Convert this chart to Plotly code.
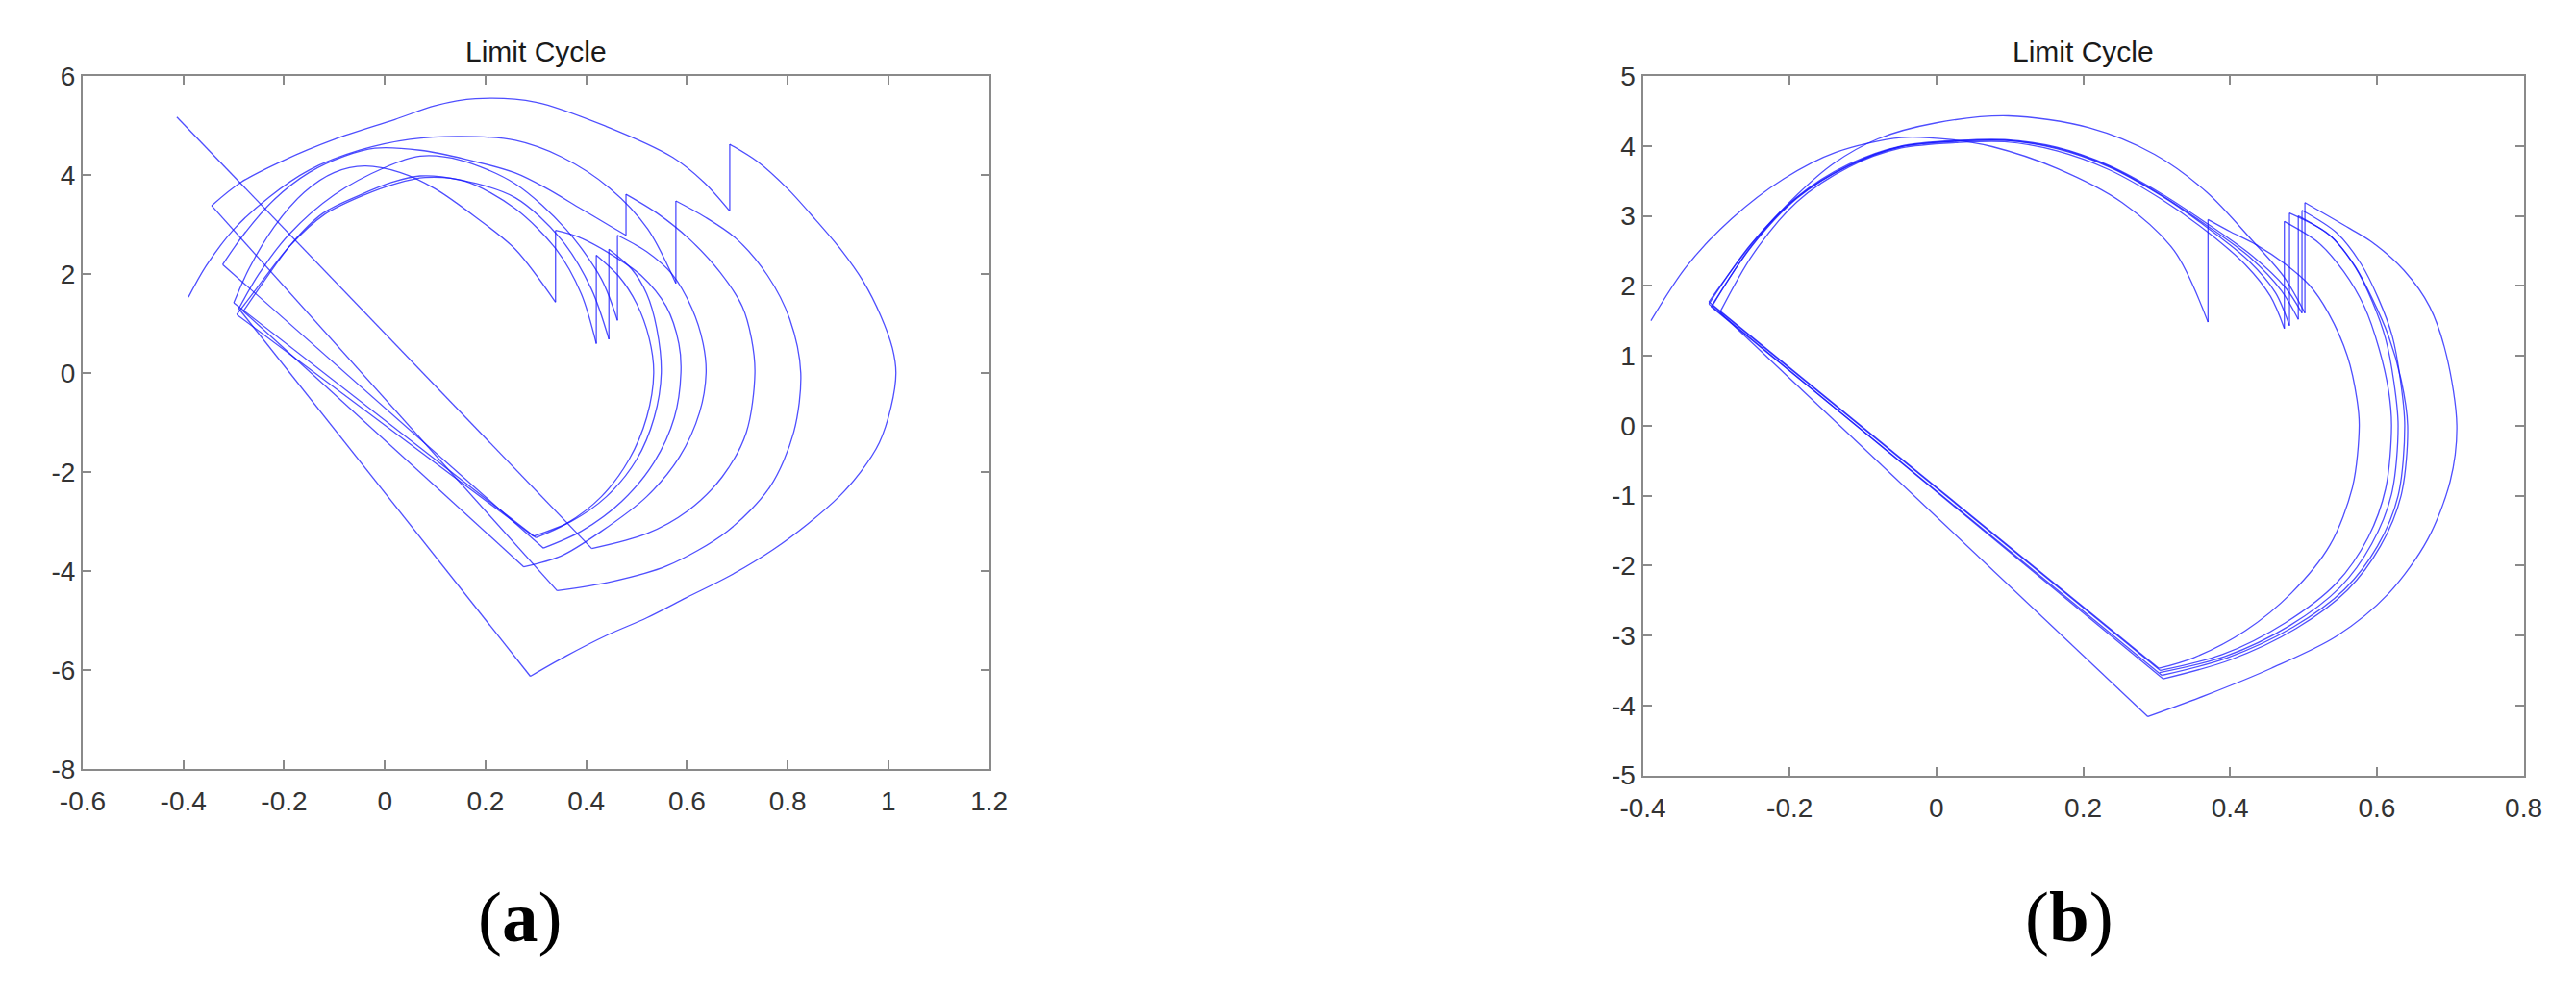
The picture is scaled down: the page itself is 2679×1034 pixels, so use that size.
import plotly.graph_objects as go

# ---------------- Panel (a) data ----------------
A_X_TICKS = [-0.6, -0.4, -0.2, 0, 0.2, 0.4, 0.6, 0.8, 1.0, 1.2]
A_X_LABELS = ["-0.6", "-0.4", "-0.2", "0", "0.2", "0.4", "0.6", "0.8", "1", "1.2"]
A_Y_TICKS = [-8, -6, -4, -2, 0, 2, 4, 6]
A_Y_LABELS = ["-8", "-6", "-4", "-2", "0", "2", "4", "6"]

# continuous arcs (angle, angular velocity); consecutive arcs are joined by straight jumps
A_T1 = [(-0.39, 1.53), (-0.355, 2.16), (-0.30, 2.9), (-0.23, 3.55), (-0.15, 4.1), (-0.05, 4.5),
        (0.05, 4.72), (0.15, 4.78), (0.259, 4.70), (0.353, 4.355), (0.447, 3.73), (0.522, 2.91), (0.578, 1.81)]
A_R1 = [(0.578, 3.475), (0.634, 3.16), (0.697, 2.72), (0.76, 1.97), (0.804, 1.09), (0.826, 0.0),
        (0.812, -1.2), (0.765, -2.3), (0.68, -3.2), (0.56, -3.9), (0.45, -4.22), (0.342, -4.40)]
A_T2 = [(-0.344, 3.38), (-0.286, 3.85), (-0.2, 4.3), (-0.1, 4.72), (0.02, 5.12), (0.1, 5.4), (0.18, 5.54),
        (0.3, 5.47), (0.44, 4.98), (0.572, 4.355), (0.634, 3.85), (0.685, 3.27)]
A_R2 = [(0.685, 4.62), (0.74, 4.27), (0.80, 3.72), (0.855, 3.1), (0.905, 2.5), (0.95, 1.85), (0.985, 1.15),
        (1.008, 0.5), (1.015, 0.0), (1.005, -0.7), (0.982, -1.41), (0.945, -2.0), (0.903, -2.49),
        (0.84, -3.05), (0.771, -3.57), (0.685, -4.1), (0.599, -4.54), (0.52, -4.95), (0.441, -5.30),
        (0.36, -5.72), (0.289, -6.13)]
A_T3 = [(-0.29, 1.3), (-0.25, 2.0), (-0.19, 2.8), (-0.1, 3.6), (0.0, 4.15), (0.07, 4.38), (0.15, 4.3),
        (0.259, 3.82), (0.36, 2.9), (0.43, 1.9), (0.462, 1.06)]
A_R3 = [(0.462, 2.78), (0.52, 2.45), (0.57, 2.0), (0.61, 1.3), (0.632, 0.6), (0.638, 0.0), (0.625, -0.8),
        (0.585, -1.7), (0.52, -2.5), (0.43, -3.2), (0.35, -3.7), (0.276, -3.92)]
A_T4 = [(-0.281, 1.245), (-0.249, 1.72), (-0.186, 2.6), (-0.123, 3.225), (-0.048, 3.6), (0.014, 3.85),
        (0.07, 3.98), (0.15, 3.9), (0.259, 3.54), (0.35, 2.7), (0.41, 1.7), (0.445, 0.68)]
A_R4 = [(0.445, 2.50), (0.49, 2.1), (0.52, 1.6), (0.54, 0.9), (0.549, 0.0), (0.535, -0.9), (0.5, -1.75),
        (0.44, -2.5), (0.37, -3.0), (0.295, -3.30)]
A_T5 = [(-0.294, 1.18), (-0.255, 1.7), (-0.19, 2.55), (-0.12, 3.2), (-0.04, 3.6), (0.02, 3.82), (0.08, 3.95),
        (0.16, 3.87), (0.259, 3.32), (0.34, 2.5), (0.39, 1.6), (0.42, 0.59)]
A_R5 = [(0.42, 2.38), (0.465, 1.95), (0.5, 1.4), (0.525, 0.7), (0.534, 0.0), (0.52, -0.9), (0.485, -1.75),
        (0.43, -2.5), (0.36, -3.05), (0.30, -3.33)]
A_T6 = [(-0.30, 1.415), (-0.27, 2.1), (-0.22, 2.95), (-0.16, 3.65), (-0.1, 4.05), (-0.04, 4.18), (0.03, 4.05),
        (0.1, 3.72), (0.18, 3.15), (0.259, 2.5), (0.339, 1.43)]
A_R6 = [(0.339, 2.88), (0.384, 2.75), (0.447, 2.41), (0.509, 1.97), (0.559, 1.34), (0.584, 0.59), (0.588, 0.0),
        (0.575, -0.9), (0.535, -1.8), (0.47, -2.6), (0.39, -3.2), (0.315, -3.54)]
A_T7 = [(-0.322, 2.19), (-0.28, 2.8), (-0.22, 3.5), (-0.15, 4.05), (-0.08, 4.38), (-0.02, 4.54), (0.07, 4.5),
        (0.16, 4.32), (0.259, 4.04), (0.321, 3.73), (0.384, 3.35), (0.447, 2.97), (0.479, 2.78)]
A_R7 = [(0.479, 3.61), (0.541, 3.225), (0.603, 2.72), (0.666, 2.03), (0.71, 1.34), (0.728, 0.7), (0.735, 0.0),
        (0.718, -1.2), (0.67, -2.1), (0.6, -2.8), (0.52, -3.25), (0.411, -3.55)]
A_END = [(-0.413, 5.17)]
A_PATH = [A_T1, A_R1, A_T2, A_R2, A_T3, A_R3, A_T4, A_R4, A_T5, A_R5, A_T6, A_R6, A_T7, A_R7, A_END]

# ---------------- Panel (b) data ----------------
B_X_TICKS = [-0.4, -0.2, 0, 0.2, 0.4, 0.6, 0.8]
B_X_LABELS = ["-0.4", "-0.2", "0", "0.2", "0.4", "0.6", "0.8"]
B_Y_TICKS = [-5, -4, -3, -2, -1, 0, 1, 2, 3, 4, 5]
B_Y_LABELS = ["-5", "-4", "-3", "-2", "-1", "0", "1", "2", "3", "4", "5"]

B_T0 = [(-0.389, 1.50), (-0.341, 2.27), (-0.279, 2.96), (-0.208, 3.53), (-0.137, 3.91), (-0.048, 4.12),
        (0.02, 4.09), (0.076, 3.99), (0.164, 3.68), (0.253, 3.19), (0.324, 2.50), (0.370, 1.48)]
B_R0 = [(0.370, 2.947), (0.401, 2.77), (0.435, 2.59), (0.474, 2.32), (0.508, 2.01), (0.534, 1.61), (0.560, 0.99),
        (0.573, 0.37), (0.576, 0.0), (0.567, -0.87), (0.536, -1.71), (0.483, -2.40), (0.421, -2.93),
        (0.35, -3.32), (0.303, -3.47)]
B_T1 = [(-0.31, 1.77), (-0.25, 2.62), (-0.19, 3.3), (-0.14, 3.75), (-0.08, 4.1), (0.0, 4.33), (0.098, 4.43),
        (0.208, 4.26), (0.297, 3.88), (0.368, 3.34), (0.43, 2.65), (0.474, 2.12), (0.502, 1.61)]
B_R1 = [(0.502, 3.19), (0.563, 2.82), (0.594, 2.62), (0.637, 2.22), (0.672, 1.70), (0.695, 1.0), (0.709, 0.0),
        (0.70, -0.79), (0.669, -1.63), (0.616, -2.40), (0.545, -3.01), (0.456, -3.47), (0.368, -3.85),
        (0.288, -4.16)]
B_T2 = [(-0.295, 1.62), (-0.25, 2.45), (-0.19, 3.2), (-0.119, 3.70), (-0.048, 3.97), (0.031, 4.05),
        (0.093, 4.06), (0.164, 3.93), (0.235, 3.66), (0.306, 3.24), (0.368, 2.78), (0.421, 2.30),
        (0.455, 1.85), (0.474, 1.39)]
B_R2 = [(0.474, 2.92), (0.52, 2.62), (0.555, 2.2), (0.583, 1.7), (0.603, 1.1), (0.616, 0.5), (0.620, 0.0),
        (0.612, -0.9), (0.588, -1.6), (0.545, -2.25), (0.475, -2.82), (0.39, -3.27), (0.305, -3.50)]
B_T3 = [(-0.305, 1.72), (-0.252, 2.57), (-0.19, 3.26), (-0.119, 3.72), (-0.048, 3.99), (0.031, 4.07),
        (0.093, 4.08), (0.164, 3.96), (0.235, 3.70), (0.306, 3.29), (0.368, 2.84), (0.425, 2.36),
        (0.462, 1.90), (0.481, 1.43)]
B_R3 = [(0.481, 3.04), (0.534, 2.74), (0.569, 2.30), (0.594, 1.81), (0.616, 1.28), (0.633, 0.66), (0.642, 0.0),
        (0.633, -1.0), (0.605, -1.72), (0.56, -2.35), (0.49, -2.9), (0.40, -3.35), (0.309, -3.62)]
B_T4 = [(-0.31, 1.74), (-0.254, 2.58), (-0.19, 3.27), (-0.119, 3.74), (-0.048, 4.0), (0.031, 4.08),
        (0.093, 4.09), (0.164, 3.98), (0.235, 3.72), (0.306, 3.32), (0.37, 2.88), (0.43, 2.43),
        (0.475, 1.98), (0.498, 1.61)]
B_R4 = [(0.498, 3.08), (0.545, 2.76), (0.578, 2.32), (0.602, 1.82), (0.621, 1.28), (0.632, 0.66), (0.638, 0.0),
        (0.629, -1.0), (0.601, -1.72), (0.556, -2.34), (0.486, -2.88), (0.396, -3.32), (0.307, -3.57)]
B_T5 = [(-0.307, 1.70), (-0.252, 2.56), (-0.19, 3.25), (-0.119, 3.72), (-0.048, 3.99), (0.031, 4.07),
        (0.093, 4.08), (0.164, 3.97), (0.235, 3.71), (0.306, 3.30), (0.37, 2.85), (0.428, 2.40),
        (0.47, 1.93), (0.493, 1.52)]
B_R5 = [(0.493, 3.0), (0.538, 2.7), (0.571, 2.26), (0.594, 1.77), (0.612, 1.24), (0.623, 0.64), (0.629, 0.0),
        (0.62, -0.98), (0.593, -1.69), (0.55, -2.31), (0.481, -2.86), (0.393, -3.30), (0.304, -3.53)]
B_PATH = [B_T0, B_R0, B_T1, B_R1, B_T2, B_R2, B_T3, B_R3, B_T4, B_R4, B_T5, B_R5]

TITLE = "Limit Cycle"
PANEL_LABELS = ["(<b>a</b>)", "(<b>b</b>)"]

LINE_COLOR = "rgba(20,20,255,0.75)"
LINE_W = 1.3

fig = go.Figure()


def add_path(path, xa, ya):
    jx, jy = [], []
    for i, arc in enumerate(path):
        xs = [p[0] for p in arc]
        ys = [p[1] for p in arc]
        if len(arc) > 1:
            fig.add_trace(go.Scatter(x=xs, y=ys, mode="lines", xaxis=xa, yaxis=ya,
                                     line=dict(color=LINE_COLOR, width=LINE_W, shape="spline", smoothing=0.9),
                                     hoverinfo="skip", showlegend=False))
        if i + 1 < len(path):
            nxt = path[i + 1]
            jx += [arc[-1][0], nxt[0][0], None]
            jy += [arc[-1][1], nxt[0][1], None]
    fig.add_trace(go.Scatter(x=jx, y=jy, mode="lines", xaxis=xa, yaxis=ya,
                             line=dict(color=LINE_COLOR, width=LINE_W),
                             hoverinfo="skip", showlegend=False))


add_path(A_PATH, "x", "y")
add_path(B_PATH, "x2", "y2")

W, H = 2679, 1034
AX_COLOR = "#8a8a8a"
TICK_FONT = dict(family="Liberation Sans, Arial, sans-serif", size=28, color="#333333")


def axis(domain, rng, tv, tt, anchor):
    return dict(domain=domain, range=rng, tickvals=tv, ticktext=tt, anchor=anchor,
                showline=True, linecolor=AX_COLOR, linewidth=2, mirror="ticks",
                ticks="inside", ticklen=9, tickwidth=2, tickcolor=AX_COLOR,
                showgrid=False, zeroline=False, tickfont=TICK_FONT, fixedrange=True)


fig.update_layout(
    width=W, height=H, margin=dict(l=0, r=0, t=0, b=0),
    paper_bgcolor="white", plot_bgcolor="white", showlegend=False,
    xaxis=axis([63 / W, 1021 / W], [-0.6, 1.2], A_X_TICKS, A_X_LABELS, "y"),
    yaxis=axis([1 - 809 / H, 1 - 66 / H], [-8, 6], A_Y_TICKS, A_Y_LABELS, "x"),
    xaxis2=axis([1712 / W, 2643 / W], [-0.4, 0.8], B_X_TICKS, B_X_LABELS, "y2"),
    yaxis2=axis([1 - 816 / H, 1 - 66 / H], [-5, 5], B_Y_TICKS, B_Y_LABELS, "x2"),
)
fig.layout.xaxis.ticklabelstandoff = 8
fig.layout.xaxis2.ticklabelstandoff = 8

for cx in [(63 + 1021) / 2, (1712 + 2643) / 2]:
    fig.add_annotation(x=cx / W, y=1 - 40 / H, xref="paper", yref="paper", text=TITLE, showarrow=False,
                       font=dict(family="Liberation Sans, Arial, sans-serif", size=30, color="#1a1a1a"),
                       xanchor="center", yanchor="middle")

for cx, lab in zip([525, 2163], PANEL_LABELS):
    fig.add_annotation(x=cx / W, y=1 - 968 / H, xref="paper", yref="paper", text=lab, showarrow=False,
                       font=dict(family="Liberation Serif, Times New Roman, serif", size=75, color="black"),
                       xanchor="center", yanchor="middle")

fig.write_html("out.html", config={"displayModeBar": False, "staticPlot": True},
               post_script="document.body.style.margin='0px';")
